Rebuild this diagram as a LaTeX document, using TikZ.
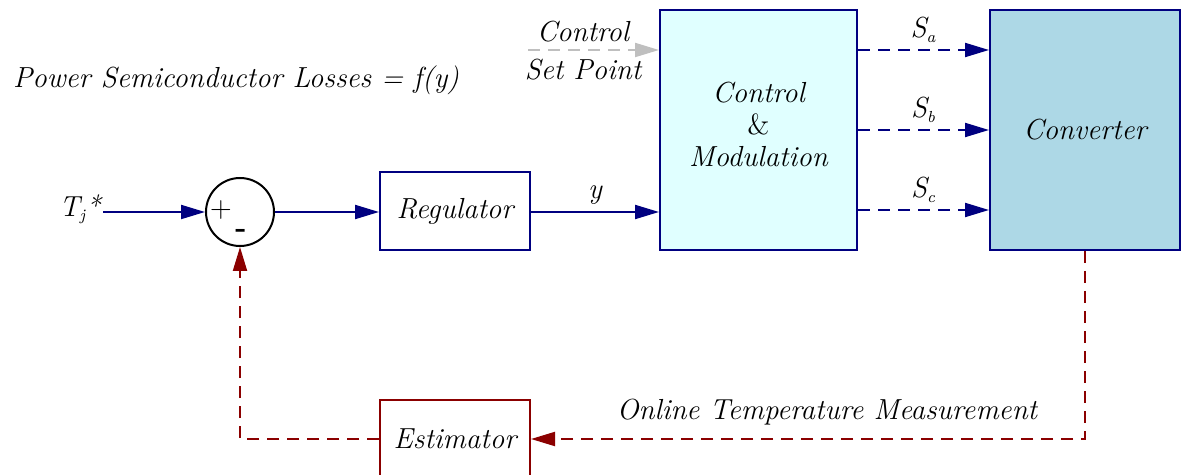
\documentclass[tikz,border=0pt]{standalone}
\usetikzlibrary{arrows.meta}
\definecolor{sigblue}{HTML}{000080}
\definecolor{fbred}{HTML}{8B0000}
\definecolor{ctrlfill}{HTML}{E0FFFF}
\definecolor{convfill}{HTML}{ADD8E6}
\newcommand{\sub}[1]{\textsubscript{\fontsize{8}{8}\selectfont #1}}

\begin{document}
\begin{tikzpicture}[x=0.5pt,y=-0.5pt,font=\fontsize{14.5}{16}\selectfont\itshape,
  block/.style={draw=sigblue,line width=1pt,minimum width=75pt,minimum height=39pt},
  sig/.style={sigblue,line width=1pt,-{Triangle[length=12pt,width=7pt]}},
  sigdash/.style={sig,dash pattern=on 6pt off 4pt},
  fb/.style={fbred,line width=1pt,dash pattern=on 6pt off 4pt,-{Triangle[length=12pt,width=7pt]}}]
  \clip (0,0) rectangle (1186,475);
  \useasboundingbox (0,0) rectangle (1186,475);
  % blocks
  \node[draw,circle,line width=1pt,minimum size=34pt,inner sep=0pt] (sum) at (240,212) {};
  \node[font=\fontsize{15}{15}\selectfont\upshape] (plus) at (221,210) {+};
  \node[font=\fontsize{15}{15}\selectfont\bfseries\upshape] (minus) at (241,233) {-};
  \node[block] (reg) at (455,211) {Regulator};
  \node[block,fill=ctrlfill,minimum width=98.5pt,minimum height=120pt] (ctrl) at (758.5,130) {};
  \node[align=center] (ctrltxt) at (ctrl.center |- 0,124)
    {Control\\[0pt] {\upshape\&}\\[0pt] Modulation};
  \node[block,fill=convfill,minimum width=95pt,minimum height=120pt] (conv) at (1085,130) {Converter};
  \node[block,draw=fbred] (est) at (455,439) {Estimator};
  % texts
  \node[anchor=west] (title) at (6,80) {Power Semiconductor Losses = f(y)};
  \node (tj) at (80,209) {T\sub{j}*};
  \node[align=center] (setpt) at (583,51) {Control\\[3pt] Set Point};
  \node (meas) at (827,412) {Online Temperature Measurement};
  % signals
  \coordinate (tjout) at (103,212);
  \coordinate (spin) at (528,50);
  \draw[sig] (tjout) -- (sum.west);
  \draw[sig] (sum.east) -- (reg.west |- sum.east);
  \draw[sig] (reg.east |- sum.east) -- node[above,text=black] {y} (ctrl.west |- sum.east);
  \draw[sigdash,gray!50] (spin) -- (ctrl.west |- spin);
  \foreach \yy/\lbl in {50/a,130/b,210/c}
    \draw[sigdash] (ctrl.east |- 0,\yy) -- node[above,text=black] {S\sub{\lbl}} (conv.west |- 0,\yy);
  % feedback
  \draw[fb] (conv.south) -- (conv.south |- est.east) -- (est.east);
  \draw[fb] (est.west) -- (est.west -| sum.south) -- (sum.south);
\end{tikzpicture}
\end{document}
